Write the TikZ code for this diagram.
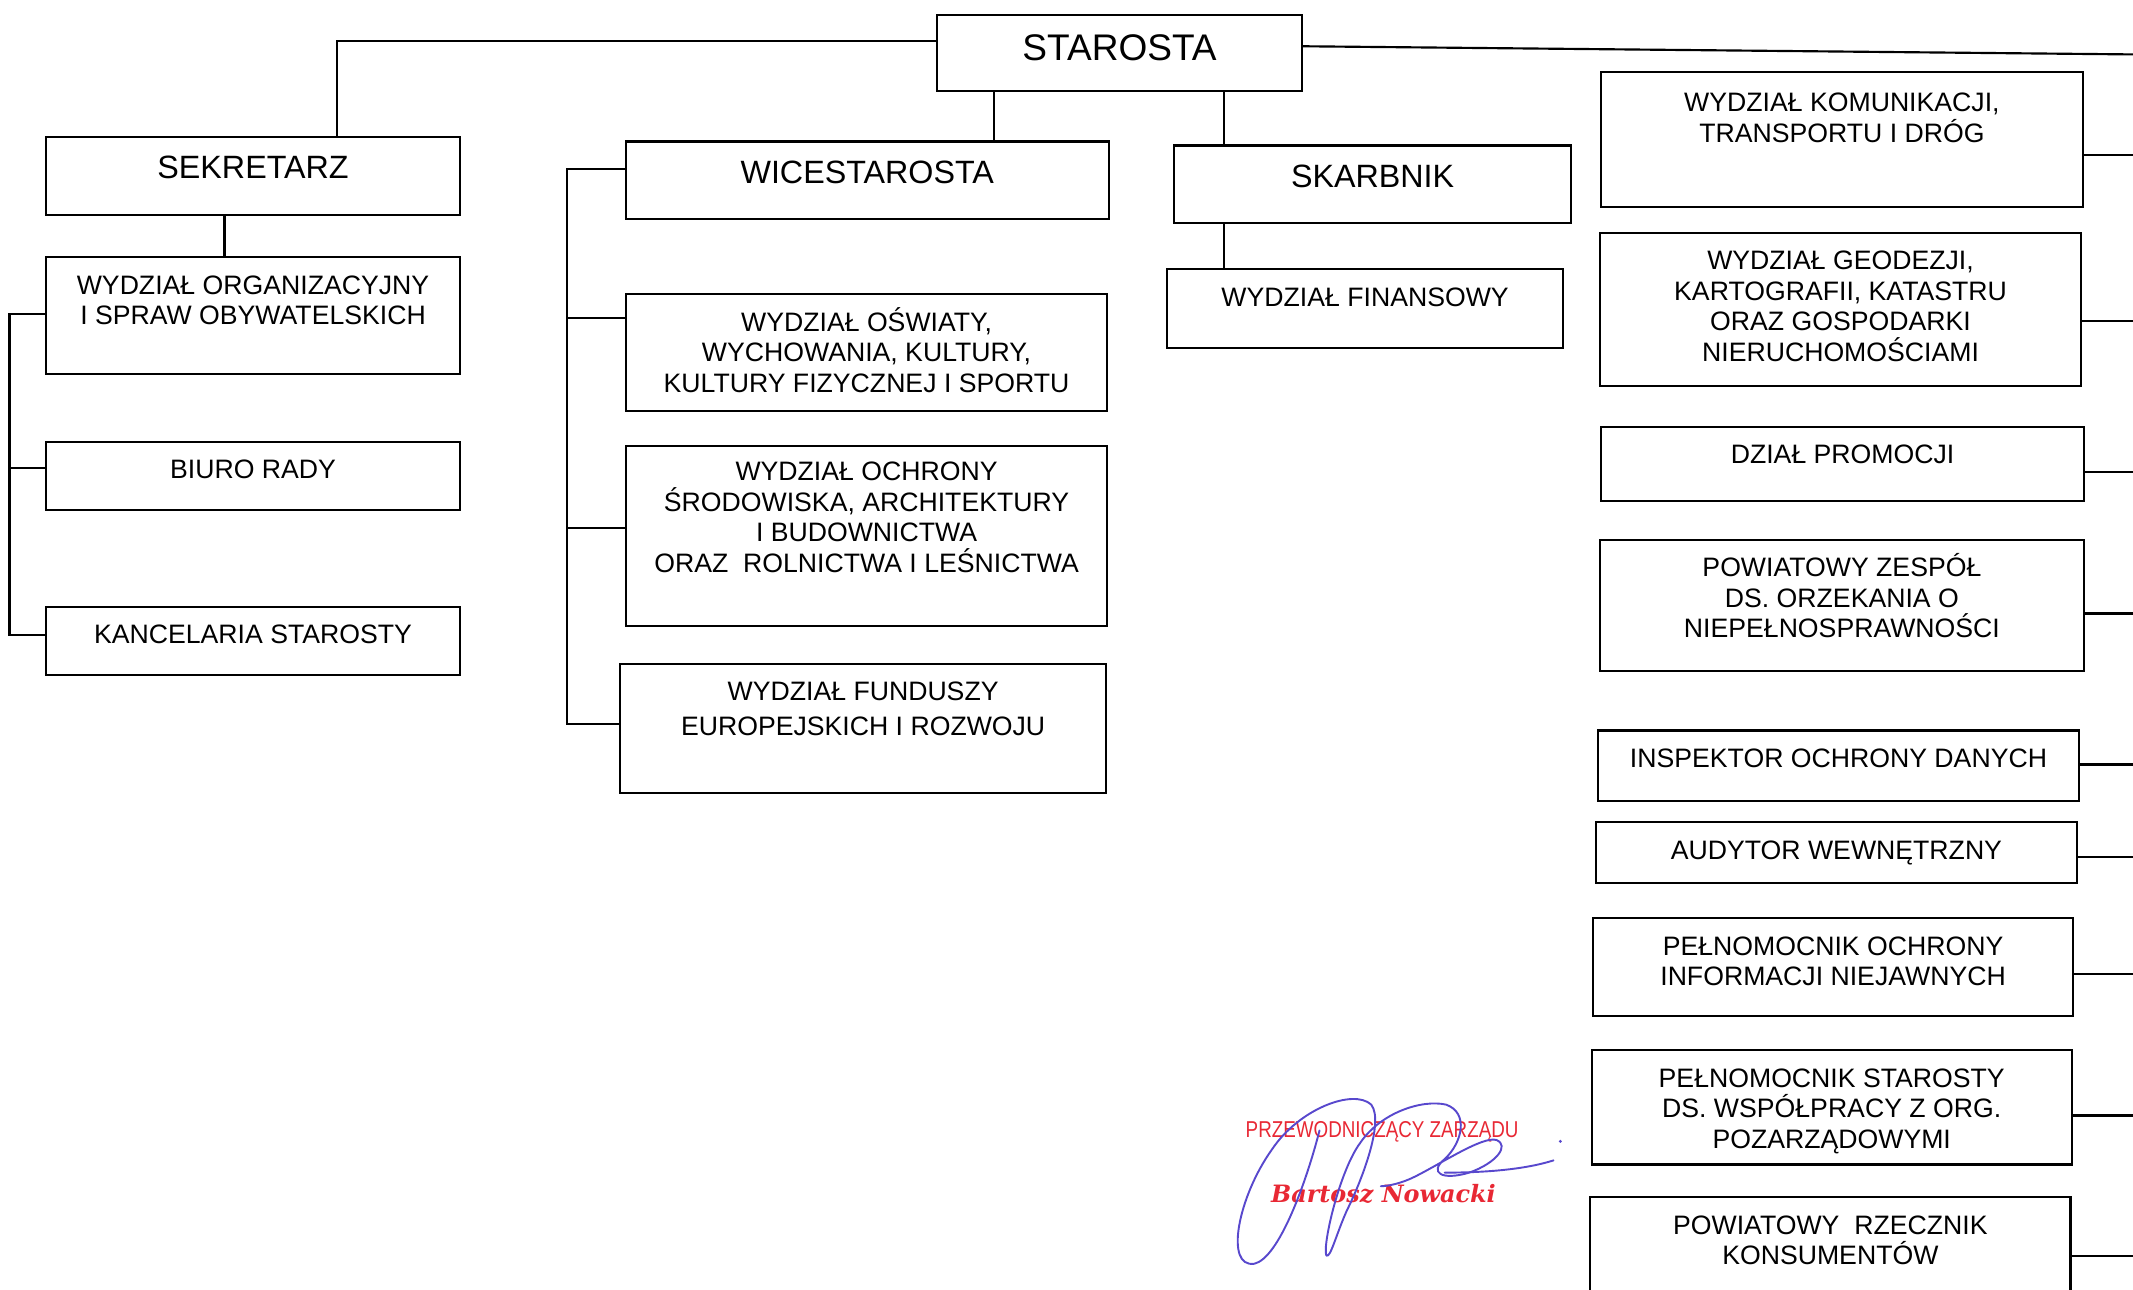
\documentclass[tikz,border=0pt]{standalone}
\usepackage{fontspec}
\setmainfont{Liberation Sans}
\newfontfamily\stampfont[FakeStretch=0.82]{Liberation Sans}
\newfontfamily\signfont{DejaVu Serif}
\usetikzlibrary{fit}
\definecolor{stampred}{RGB}{232,40,52}
\definecolor{inkblue}{RGB}{88,72,205}

\begin{document}
\begin{tikzpicture}[x=0.02cm, y=-0.02cm, line width=0.9pt,
    orgbox/.style={draw, inner sep=0pt},
    orgtext/.style={anchor=north, inner sep=0pt, yshift=-0.2cm, align=center,
      font=\fontsize{11.15}{12.8}\selectfont, execute at begin node=\vphantom{Ó}},
    lowtext/.style={orgtext, yshift=-0.07cm},
    headtext/.style={orgtext, font=\fontsize{13.5}{15}\selectfont},
    ink/.style={draw=inkblue, line width=0.8pt, line cap=round, line join=round}]

    \useasboundingbox (0,0) rectangle (1568,948);
    \clip (0,0) rectangle (1568,948);

    % kierownictwo
    \node[orgbox, fit={(689,11) (957,67)}] (sta) {};
    \node[headtext, font=\fontsize{15.5}{17}\selectfont] (stat) at (sta.north) {STAROSTA};
    \node[orgbox, fit={(34,101) (338,158)}] (sek) {};
    \node[headtext] (sekt) at (sek.north) {SEKRETARZ};
    \node[orgbox, fit={(460,104) (815,161)}] (wic) {};
    \node[headtext] (wict) at (wic.north) {WICESTAROSTA};
    \node[orgbox, fit={(863,107) (1155,164)}] (ska) {};
    \node[headtext] (skat) at (ska.north) {SKARBNIK};

    % sekretarz
    \node[orgbox, fit={(34,189) (338,275)}] (org) {};
    \node[lowtext] (orgt) at (org.north) {WYDZIAŁ ORGANIZACYJNY\\I SPRAW OBYWATELSKICH};
    \node[orgbox, fit={(34,325) (338,375)}] (biu) {};
    \node[orgtext] (biut) at (biu.north) {BIURO RADY};
    \node[orgbox, fit={(34,446) (338,496)}] (kan) {};
    \node[orgtext] (kant) at (kan.north) {KANCELARIA STAROSTY};

    % wicestarosta
    \node[orgbox, fit={(460,216) (814,302)}] (osw) {};
    \node[orgtext] (oswt) at (osw.north) {WYDZIAŁ OŚWIATY,\\WYCHOWANIA, KULTURY,\\KULTURY FIZYCZNEJ I SPORTU};
    \node[orgbox, fit={(460,328) (814,460)}] (och) {};
    \node[orgtext, yshift=-0.03cm] (ocht) at (och.north) {WYDZIAŁ OCHRONY\\ŚRODOWISKA, ARCHITEKTURY\\I BUDOWNICTWA\\ORAZ~ ROLNICTWA I LEŚNICTWA};
    \node[orgbox, fit={(456,488) (813,583)}] (fun) {};
    \node[lowtext, font=\fontsize{11.15}{14.5}\selectfont] (funt) at (fun.north) {WYDZIAŁ FUNDUSZY\\EUROPEJSKICH I ROZWOJU};

    % skarbnik
    \node[orgbox, fit={(858,198) (1149,256)}] (fin) {};
    \node[orgtext] (fint) at (fin.north) {WYDZIAŁ FINANSOWY};

    % starosta bezposrednio
    \node[orgbox, fit={(1177,53) (1531,152)}] (kom) {};
    \node[lowtext, yshift=-0.04cm] (komt) at (kom.north) {WYDZIAŁ KOMUNIKACJI,\\TRANSPORTU I DRÓG};
    \node[orgbox, fit={(1176,171) (1530,284)}] (geo) {};
    \node[lowtext] (geot) at (geo.north) {WYDZIAŁ GEODEZJI,\\KARTOGRAFII, KATASTRU\\ORAZ GOSPODARKI\\NIERUCHOMOŚCIAMI};
    \node[orgbox, fit={(1177,314) (1532,368)}] (pro) {};
    \node[orgtext] (prot) at (pro.north) {DZIAŁ PROMOCJI};
    \node[orgbox, fit={(1176,397) (1532,493)}] (zes) {};
    \node[orgtext] (zest) at (zes.north) {POWIATOWY ZESPÓŁ\\DS. ORZEKANIA O\\NIEPEŁNOSPRAWNOŚCI};
    \node[orgbox, fit={(1175,537) (1528,589)}] (ins) {};
    \node[orgtext] (inst) at (ins.north) {INSPEKTOR OCHRONY DANYCH};
    \node[orgbox, fit={(1173,604) (1527,649)}] (aud) {};
    \node[orgtext, yshift=-0.02cm] (audt) at (aud.north) {AUDYTOR WEWNĘTRZNY};
    \node[orgbox, fit={(1171,675) (1524,747)}] (peo) {};
    \node[lowtext] (peot) at (peo.north) {PEŁNOMOCNIK OCHRONY\\INFORMACJI NIEJAWNYCH};
    \node[orgbox, fit={(1170,772) (1523,856)}] (pes) {};
    \node[lowtext] (pest) at (pes.north) {PEŁNOMOCNIK STAROSTY\\DS. WSPÓŁPRACY Z ORG.\\POZARZĄDOWYMI};
    \node[orgbox, fit={(1169,880) (1522,960)}] (rze) {};
    \node[lowtext] (rzet) at (rze.north) {POWIATOWY~ RZECZNIK\\KONSUMENTÓW};

    % linie
    \coordinate (lbus) at (7,0);
    \coordinate (wbus) at (417,0);
    \coordinate (sbus) at (248,30);
    \coordinate (rbus) at (1568,0);

    \draw (sta.west |- sbus) -| (sek.north -| sbus);
    \draw (sta.east |- 0,34) -- (rbus |- 0,40);
    \draw (sta.south -| 731,0) -- (wic.north -| 731,0);
    \draw (sta.south -| 900,0) -- (ska.north -| 900,0);
    \draw (ska.south -| 900,0) -- (fin.north -| 900,0);
    \draw (sek.south -| 165,0) -- (org.north -| 165,0);

    \draw (org.west |- 0,231) -| (lbus |- 0,467) -- (kan.west |- 0,467);
    \draw (biu.west |- 0,344) -- (lbus |- 0,344);

    \draw (wic.west |- 0,124) -| (wbus |- 0,532) -- (fun.west |- 0,532);
    \draw (osw.west |- 0,234) -- (wbus |- 0,234);
    \draw (och.west |- 0,388) -- (wbus |- 0,388);

    \foreach \n/\y in {kom/114, geo/236, pro/347, zes/451, ins/562, aud/630, peo/716, pes/820, rze/923}
        \draw (\n.east |- 0,\y) -- (rbus |- 0,\y);

    % podpis
    \node[font=\stampfont\fontsize{9.6}{11}\selectfont, text=stampred, anchor=base, inner sep=0pt] (stamp) at (1016,836) {PRZEWODNICZĄCY ZARZĄDU};
    \node[font=\signfont\bfseries\itshape\fontsize{10}{12}\selectfont, text=stampred, anchor=base, inner sep=0pt] (name) at (1017,884) {Bartosz Nowacki};

    \draw[ink] (970,831) .. controls (960,870) and (940,925) .. (922,929)
        .. controls (900,932) and (910,880) .. (935,845)
        .. controls (955,815) and (995,800) .. (1008,812)
        .. controls (1018,825) and (1000,870) .. (990,890)
        .. controls (982,908) and (978,925) .. (975,923)
        .. controls (972,915) and (985,860) .. (1000,840)
        .. controls (1015,818) and (1045,808) .. (1063,812)
        .. controls (1080,818) and (1075,840) .. (1062,852)
        .. controls (1050,862) and (1060,868) .. (1080,862)
        .. controls (1100,855) and (1110,842) .. (1100,838)
        .. controls (1090,835) and (1060,855) .. (1040,865)
        .. controls (1030,870) and (1020,872) .. (1015,872);
    \draw[ink] (1062,862) .. controls (1090,862) and (1120,860) .. (1142,853);
    \fill[inkblue] (1147,839) circle (1.2);
\end{tikzpicture}
\end{document}
